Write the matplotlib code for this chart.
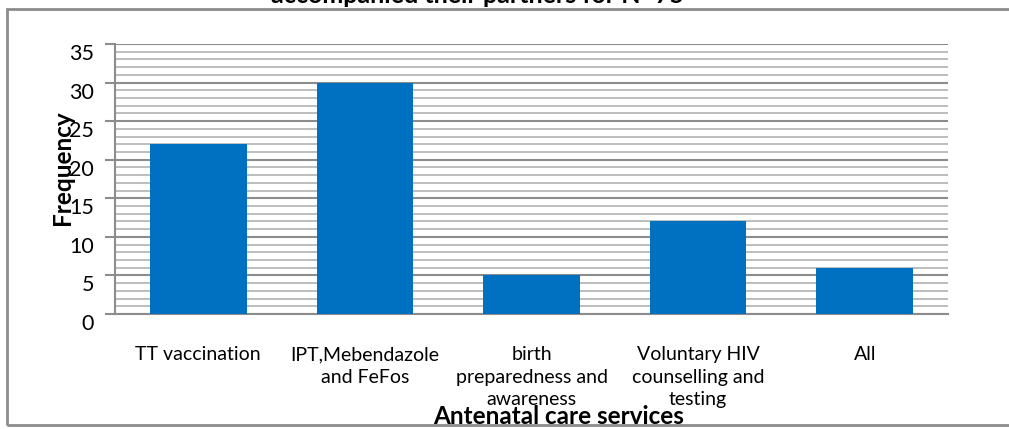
import numpy as np
import matplotlib
matplotlib.use('Agg')
import matplotlib.pyplot as plt
import matplotlib.transforms as mtransforms
from matplotlib.patches import Rectangle

services = ["TT vaccination",
            "IPT,Mebendazole\nand FeFos",
            "birth\npreparedness and\nawareness",
            "Voluntary HIV\ncounselling and\ntesting",
            "All"]
frequency = [22, 30, 5, 12, 6]

plt.rcParams['font.family'] = ['Lato', 'DejaVu Sans']

W, H = 1009, 429
fig = plt.figure(figsize=(W / 100, H / 100), dpi=100)
ax = fig.add_axes([115 / W, 1 - 314 / H, (948 - 115) / W, (314 - 44) / H])

x = np.arange(len(services))
ax.bar(x, frequency, width=0.58, color='#0070C0', zorder=3)
ax.set_xlim(-0.5, len(services) - 0.5)
ax.set_ylim(0, 35)

# excel-like gridlines: light every unit, darker every 5
ax.set_yticks(range(0, 36, 5))
ax.set_yticks(range(0, 36), minor=True)
ax.grid(axis='y', which='minor', color='#b8b8b8', lw=1.3, zorder=0)
ax.grid(axis='y', which='major', color='#8c8c8c', lw=1.5, zorder=1)
ax.tick_params(axis='y', which='minor', length=0)
ax.tick_params(axis='y', which='major', length=7, color='#8c8c8c', width=1.5,
               labelsize=15.5, pad=8)
offset = mtransforms.ScaledTranslation(0, -0.08, fig.dpi_scale_trans)
for lab in ax.get_yticklabels():
    lab.set_transform(lab.get_transform() + offset)

ax.set_xticks(x)
ax.set_xticklabels(services, fontsize=14, linespacing=1.4)
ax.tick_params(axis='x', length=0, pad=23)

for side in ['top', 'right']:
    ax.spines[side].set_visible(False)
for side in ['left', 'bottom']:
    ax.spines[side].set_color('#8c8c8c')
    ax.spines[side].set_linewidth(1.5)

fig.text(62 / W, 1 - 168 / H, 'Frequency', rotation=90, fontsize=17.5,
         fontweight='bold', ha='center', va='center')
fig.text(559 / W, 1 - 417 / H, 'Antenatal care services', fontsize=17.5,
         fontweight='bold', ha='center', va='center')
fig.text(478 / W, 1 - 3 / H, 'accompanied their partners for N=75', fontsize=18,
         fontweight='bold', ha='center', va='baseline')

# outer chart frame
fig.add_artist(Rectangle((7 / W, 1 - 425 / H), 1.2, (425 - 9) / H,
                         transform=fig.transFigure, fill=False,
                         ec='#8c8c8c', lw=2))

fig.savefig('out.png', dpi=100)
